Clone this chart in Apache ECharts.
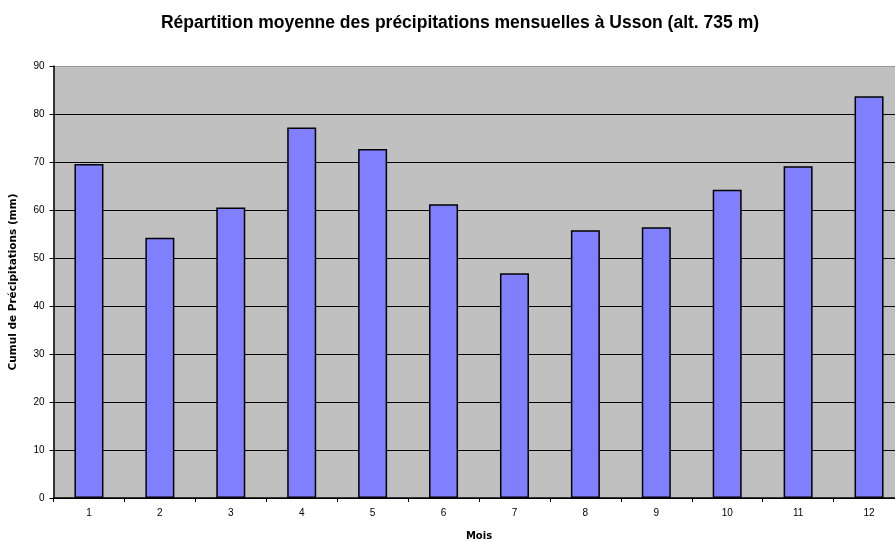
<!DOCTYPE html>
<html>
<head>
<meta charset="utf-8">
<script src="https://cdn.jsdelivr.net/npm/echarts@6/dist/echarts.min.js"></script>
<style>
  html, body { margin: 0; padding: 0; background: #fff; }
  #chart { width: 895px; height: 542px; }
</style>
</head>
<body>
<div id="chart"></div>
<script>
const mois = ["1", "2", "3", "4", "5", "6", "7", "8", "9", "10", "11", "12"];
const precipitations = [69.6, 54.2, 60.5, 77.2, 72.7, 61.2, 46.8, 55.8, 56.4, 64.2, 69.1, 83.7];

const chart = echarts.init(document.getElementById("chart"));
chart.setOption({
  animation: false,
  title: {
    text: "Répartition moyenne des précipitations mensuelles à Usson (alt. 735 m)",
    left: 455,
    top: 9,
    textAlign: "center",
    textStyle: { fontFamily: "Liberation Sans", fontSize: 17.5, fontWeight: "bold", color: "#000" }
  },
  grid: {
    left: 53.5,
    right: -9.5,
    top: 66,
    bottom: 44,
    outerBoundsMode: "none",
    show: true,
    backgroundColor: "#c0c0c0",
    borderWidth: 0
  },
  xAxis: {
    type: "category",
    data: mois,
    name: "Mois",
    nameLocation: "middle",
    nameGap: 33,
    nameTextStyle: { fontFamily: "DejaVu Sans", fontSize: 10, fontWeight: "bold", color: "#000" },
    axisLine: { lineStyle: { color: "#000", width: 1.5 } },
    axisTick: { show: true, length: 4, lineStyle: { color: "#000" } },
    axisLabel: { fontFamily: "Liberation Sans", fontSize: 10, color: "#000", margin: 10 }
  },
  yAxis: {
    type: "value",
    min: 0,
    max: 90,
    interval: 10,
    name: "Cumul de Précipitations (mm)",
    nameLocation: "middle",
    nameGap: 35,
    nameTextStyle: { fontFamily: "DejaVu Sans", fontSize: 10.5, fontWeight: "bold", color: "#000" },
    axisLine: { show: true, lineStyle: { color: "#000", width: 1.5 } },
    axisTick: { show: true, length: 4, lineStyle: { color: "#000" } },
    axisLabel: { fontFamily: "Liberation Sans", fontSize: 10, color: "#000", margin: 9 },
    splitLine: {
      show: true,
      lineStyle: {
        color: ["#000", "#000", "#000", "#000", "#000", "#000", "#000", "#000", "#000", "#999"],
        width: 1.2
      }
    }
  },
  series: [
    {
      type: "bar",
      data: precipitations,
      barWidth: 29,
      itemStyle: { color: "#8080ff", borderColor: "#000", borderWidth: 1.5 }
    }
  ]
});
</script>
</body>
</html>
